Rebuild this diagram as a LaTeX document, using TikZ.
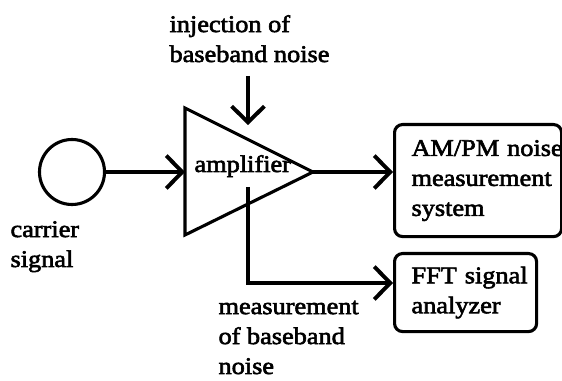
\documentclass[tikz,border=0pt]{standalone}
\usepackage{fontspec}
\setmainfont{Liberation Serif}[FakeStretch=1.1,FakeBold=2.5]
\usepackage{tikz}
\usetikzlibrary{arrows.meta}
\tikzset{sig/.style={-{Straight Barb[length=4mm,width=8.2mm,line width=2.8pt]}},
	txt/.style={inner sep=0pt,align=left,anchor=base west,font=\fontsize{17}{21.3}\selectfont},
	panel/.style={draw,rounded corners=0.2cm,anchor=north west,inner xsep=0.425cm,
		inner ysep=0pt,align=left,font=\fontsize{17}{21.3}\selectfont}}

\begin{document}
\begin{tikzpicture}[x=0.025cm,y=-0.025cm,line width=2.2pt]
				\useasboundingbox (0,0) rectangle (562,381);
				% source
				\node[draw,circle,minimum size=1.625cm,inner sep=0pt] (carrier) at (72,172) {};
				\node[txt] (carrier text) at (9,267) {carrier\\signal};
				% amplifier
				\draw[line join=miter] (185,108) coordinate (amp top) -- (313,172) coordinate (amp tip)
					-- (185,235) coordinate (amp bot) -- cycle;
				\coordinate (amp in) at (185,172);
				\node[txt] (amp text) at (193,172) {amplifier};
				\node[txt] (inj text) at (168,62) {injection of\\baseband noise};
				\coordinate (inj top) at (248,76);
				\coordinate (inj tip) at (248,125);
				% instruments
				\node[panel,minimum width=4.175cm,minimum height=2.8cm,text width=3.325cm] (ampm) at (393,123)
					{\mbox{AM/PM noise}\\measurement\\system};
				\node[panel,minimum width=3.55cm,minimum height=1.95cm,text width=2.7cm] (fft) at (393,252)
					{\mbox{FFT signal}\\analyzer};
				\coordinate (meas top) at (248,187);
				\coordinate (meas bend) at (248,283);
				\node[txt] (meas text) at (217,374) {measurement\\of baseband\\noise};
				% connections
				\draw[sig] (carrier) -- (amp in);
				\draw[sig] (inj top) -- (inj tip);
				\draw[sig] (amp tip) -- (amp tip -| ampm.west);
				\draw[sig] (meas top) -- (meas bend) -- (meas bend -| fft.west);
			\end{tikzpicture}
\end{document}
